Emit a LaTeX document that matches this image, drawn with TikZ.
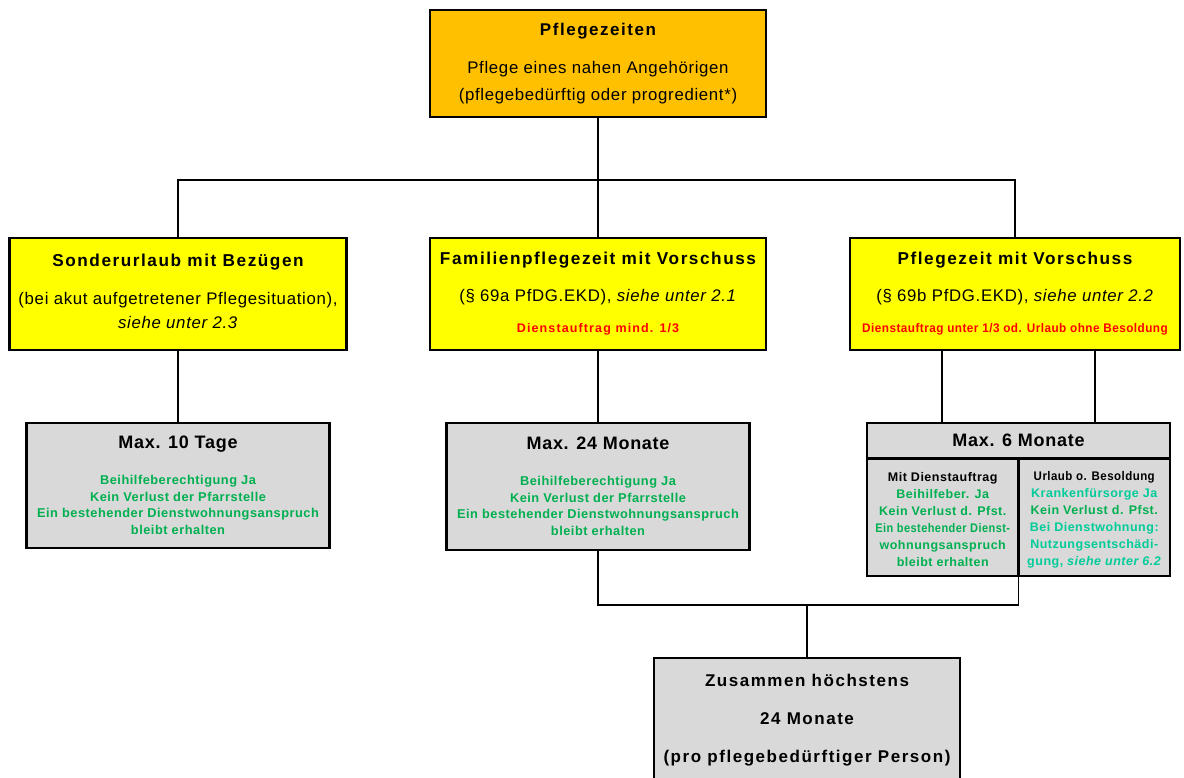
\documentclass[tikz,border=0pt]{standalone}
\usepackage{fontspec}
\setmainfont[LetterSpace=4]{Liberation Sans}
\newfontfamily\wide[LetterSpace=9]{Liberation Sans}
\usepackage{graphicx}
\usepackage{tikz}
\usetikzlibrary{positioning,calc}
\usepackage{xcolor}
\definecolor{boxorange}{HTML}{FFC000}
\definecolor{boxyellow}{HTML}{FFFF00}
\definecolor{boxgray}{HTML}{D9D9D9}
\definecolor{txtgreen}{HTML}{00B050}
\definecolor{txtteal}{HTML}{00CC99}
\definecolor{txtred}{HTML}{FF0000}
\newcommand{\sz}[2]{\fontsize{#1}{#2}\selectfont}
\newcommand{\gtxt}[1]{\textcolor{txtgreen}{#1}}
\newcommand{\ttxt}[1]{\textcolor{txtteal}{#1}}
\newcommand{\rtxt}[1]{\textcolor{txtred}{\sz{12.5}{15}\bfseries #1}}

\begin{document}
\begin{tikzpicture}[x=1pt,y=-1pt,
    box/.style={draw=black, line width=2.6pt, align=center, inner sep=0pt},
    link/.style={line width=1.4pt}]
  \useasboundingbox (0,0) rectangle (1184,778);
  \clip (0,0) rectangle (1184,778);

  % Ebene 1
  \node[box, fill=boxorange, minimum width=336, minimum height=107, font=\sz{16.8}{19}] (pflege) at (598,63.5)
    {{\sz{17}{19}\wide\bfseries Pflegezeiten}\\[19pt] Pflege eines nahen Angehörigen\\[8pt] (pflegebedürftig oder progredient*)};

  % Ebene 2
  \node[box, fill=boxyellow, minimum width=337, minimum height=112, font=\sz{16.8}{19}] (sonder) at (178,294)
    {{\sz{17.2}{19}\wide\bfseries Sonderurlaub mit Bezügen}\\[19pt] (bei akut aufgetretener Pflegesituation),\\[5pt] \textit{siehe unter 2.3}\\[-13pt]\mbox{}};
  \node[box, fill=boxyellow, minimum width=336, minimum height=112, font=\sz{16.8}{19}] (famzeit) at (598,294)
    {{\sz{17.2}{19}\wide\bfseries Familienpflegezeit mit Vorschuss}\\[18pt] (§ 69a PfDG.EKD), \textit{siehe unter 2.1}\\[12pt] \rtxt{\wide Dienstauftrag mind. 1/3}};
  \node[box, fill=boxyellow, minimum width=330, minimum height=112, font=\sz{16.8}{19}] (pflzeit) at (1015,294)
    {{\sz{17.2}{19}\wide\bfseries Pflegezeit mit Vorschuss}\\[18pt] (§ 69b PfDG.EKD), \textit{siehe unter 2.2}\\[12pt] \rtxt{\scalebox{0.94}[1]{Dienstauftrag unter 1/3 od. Urlaub ohne Besoldung}}};

  % Ebene 3
  \node[box, fill=boxgray, minimum width=303, minimum height=125, font=\sz{12.8}{16.5}\bfseries] (tage) at (178,485.5)
    {{\sz{18}{16.5}Max. 10 Tage}\\[19.5pt] \gtxt{Beihilfeberechtigung Ja}\\ \gtxt{Kein Verlust der Pfarrstelle}\\
     \gtxt{Ein bestehender Dienstwohnungsanspruch}\\ \gtxt{bleibt erhalten}};
  \node[box, fill=boxgray, minimum width=303, minimum height=127, font=\sz{12.8}{16.5}\bfseries] (monate) at (598,486.5)
    {{\sz{18}{16.5}Max. 24 Monate}\\[19.5pt] \gtxt{Beihilfeberechtigung Ja}\\ \gtxt{Kein Verlust der Pfarrstelle}\\
     \gtxt{Ein bestehender Dienstwohnungsanspruch}\\ \gtxt{bleibt erhalten}};

  \node[box, fill=boxgray, minimum width=303, minimum height=153] (sechs) at (1018.5,499.5) {};
  \draw[line width=2.6pt] ($(sechs.north west)+(0,37)$) -- ($(sechs.north east)+(0,37)$);
  \draw[line width=2.6pt] ($(sechs.north)+(0,37)$) -- (sechs.south);
  \node[font=\sz{18}{20}\bfseries] (sechskopf) at ($(sechs.north)+(0,18.5)$) {Max. 6 Monate};
  \node[align=center, inner sep=0pt, font=\sz{12.5}{17}\bfseries] (mitauftrag) at (942.75,519.5)
    {Mit Dienstauftrag\\ \gtxt{Beihilfeber. Ja}\\ \gtxt{Kein Verlust d. Pfst.}\\
     \gtxt{\scalebox{0.88}[1]{Ein bestehender Dienst-}}\\ \gtxt{wohnungsanspruch}\\ \gtxt{bleibt erhalten}};
  \node[align=center, inner sep=0pt, font=\sz{12.5}{17}\bfseries] (ohnebes) at (1094.25,519.5)
    {\scalebox{0.92}[1]{Urlaub o. Besoldung}\\ \ttxt{Krankenfürsorge Ja}\\ \gtxt{Kein Verlust d. Pfst.}\\
     \ttxt{Bei Dienstwohnung:}\\ \ttxt{Nutzungsentschädi-}\\ \ttxt{gung, \textit{siehe unter 6.2}}};

  % Zusammen
  \node[box, fill=boxgray, minimum width=306, minimum height=124, font=\sz{17}{19}\wide\bfseries] (zusammen) at (807,720)
    {Zusammen höchstens\\[19pt] 24 Monate\\[19pt] (pro pflegebedürftiger Person)};

  % Verbindungen
  \coordinate (schiene) at (0,180);
  \coordinate (sammel) at (807,605);
  \draw[link] (pflege.south) -- (famzeit.north);
  \draw[link] (sonder.north) -- (sonder.north |- schiene) -- (pflzeit.north |- schiene) -- (pflzeit.north);
  \draw[link] (sonder.south) -- (tage.north);
  \draw[link] (famzeit.south) -- (monate.north);
  \draw[link] ([xshift=-76.5pt]sechs.north) -- ([xshift=-76.5pt]sechs.north |- pflzeit.south);
  \draw[link] ([xshift=76.5pt]sechs.north) -- ([xshift=76.5pt]sechs.north |- pflzeit.south);
  \draw[link] (monate.south) |- (sammel) -| (sechs.south);
  \draw[link] (sammel) -- (zusammen.north);
\end{tikzpicture}
\end{document}
